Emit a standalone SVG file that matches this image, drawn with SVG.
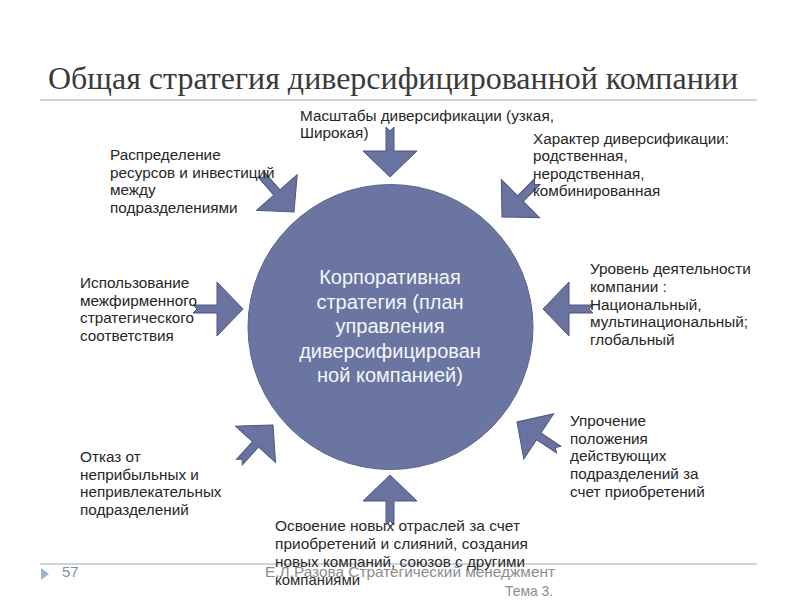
<svg xmlns="http://www.w3.org/2000/svg" width="800" height="600" viewBox="0 0 800 600">
<defs>
<style>
.lbl{font-family:"Liberation Sans",Arial,sans-serif;font-size:15.3px;fill:#262626}
.nar{font-family:"Liberation Sans",Arial,sans-serif;font-size:15px;fill:#2a2a2a}
.ctr{font-family:"Liberation Sans",Arial,sans-serif;font-size:20px;fill:#f4f5f9;text-anchor:middle}
.foot{font-family:"Liberation Sans",Arial,sans-serif;font-size:15px;fill:#8c8c8c}
.arr{fill:#6a73a0;stroke:#4d5683;stroke-width:1}
</style>
<path id="ar" d="M0,0 L-26,-27 L-26,-4 L-50,-4 L-46,0 L-50,4 L-26,4 L-26,27 Z"/>
</defs>
<rect width="800" height="600" fill="#ffffff"/>
<g id="title">
<text x="48" y="89" font-family="'Liberation Serif','Times New Roman',serif" font-size="31" fill="#3a3a3a" textLength="690" lengthAdjust="spacingAndGlyphs">Общая стратегия диверсифицированной компании</text>
<line x1="40" y1="100" x2="757" y2="100" stroke="#c9d5e0" stroke-width="2"/>
</g>
<g id="center">
<circle cx="390.5" cy="327" r="142.5" fill="#6b75a1" stroke="#5b6591" stroke-width="1"/>
<text class="ctr" x="390" y="284">Корпоративная</text>
<text class="ctr" x="390" y="309">стратегия (план</text>
<text class="ctr" x="390" y="333">управления</text>
<text class="ctr" x="390" y="358">диверсифицирован</text>
<text class="ctr" x="390" y="382">ной компанией)</text>
</g>
<g id="connectors">
<use href="#ar" class="arr" transform="translate(390,177) rotate(90)"/>
<use href="#ar" class="arr" transform="translate(243,309)"/>
<use href="#ar" class="arr" transform="translate(543,309) rotate(180)"/>
<use href="#ar" class="arr" transform="translate(390,475) rotate(-90)"/>
<use href="#ar" class="arr" transform="translate(294,212) rotate(48.8)"/>
<use href="#ar" class="arr" transform="translate(502,217) rotate(135)"/>
<use href="#ar" class="arr" transform="translate(273,425) rotate(-47.8)"/>
<use href="#ar" class="arr" transform="translate(517,422) rotate(213.5)"/>
</g>
<g id="n-scale">
<text class="lbl" x="300" y="121">Масштабы диверсификации (узкая,</text>
<text class="lbl" x="300" y="138">Широкая)</text>
</g>
<g id="n-character">
<text class="lbl" x="533" y="144">Характер диверсификации:</text>
<text class="lbl" x="533" y="161">родственная,</text>
<text class="lbl" x="533" y="179">неродственная,</text>
<text class="lbl" x="533" y="196">комбинированная</text>
</g>
<g id="n-resources">
<text class="lbl" x="110" y="160">Распределение</text>
<text class="lbl" x="110" y="178">ресурсов и инвестиций</text>
<text class="lbl" x="110" y="195">между</text>
<text class="lbl" x="110" y="213">подразделениями</text>
</g>
<g id="n-fit">
<text class="lbl" x="80" y="288">Использование</text>
<text class="lbl" x="80" y="306">межфирменного</text>
<text class="lbl" x="80" y="323">стратегического</text>
<text class="lbl" x="80" y="341">соответствия</text>
</g>
<g id="n-level">
<text class="lbl" x="590" y="274">Уровень деятельности</text>
<text class="lbl" x="590" y="292">компании :</text>
<text class="lbl" x="590" y="310">Национальный,</text>
<text class="lbl" x="590" y="327">мультинациональный;</text>
<text class="lbl" x="590" y="345">глобальный</text>
</g>
<g id="n-strengthen">
<text class="lbl" x="570" y="426">Упрочение</text>
<text class="lbl" x="570" y="444">положения</text>
<text class="lbl" x="570" y="461">действующих</text>
<text class="lbl" x="570" y="479">подразделений за</text>
<text class="lbl" x="570" y="497">счет приобретений</text>
</g>
<g id="n-divest">
<text class="lbl" x="80" y="462">Отказ от</text>
<text class="lbl" x="80" y="480">неприбыльных и</text>
<text class="lbl" x="80" y="497">непривлекательных</text>
<text class="lbl" x="80" y="515">подразделений</text>
</g>
<g id="footer">
<line x1="40" y1="564" x2="757" y2="564" stroke="#c9d5e0" stroke-width="2"/>
<polygon points="41,568 49,574 41,580" fill="#9fb3cc"/>
<text class="foot" x="62" y="577">57</text>
<text class="foot" x="265" y="577" textLength="290" lengthAdjust="spacingAndGlyphs">Е.Л.Разова Стратегический менеджмент</text>
<text class="foot" x="553" y="596" text-anchor="end" textLength="48" lengthAdjust="spacingAndGlyphs">Тема 3.</text>
</g>
<g id="n-new">
<text class="nar" x="275" y="531" textLength="245" lengthAdjust="spacingAndGlyphs">Освоение новых отраслей за счет</text>
<text class="nar" x="275" y="549" textLength="253" lengthAdjust="spacingAndGlyphs">приобретений и слияний, создания</text>
<text class="nar" x="275" y="567" textLength="250" lengthAdjust="spacingAndGlyphs">новых компаний, союзов с другими</text>
<text class="nar" x="275" y="585" textLength="85" lengthAdjust="spacingAndGlyphs">компаниями</text>
</g>
</svg>
